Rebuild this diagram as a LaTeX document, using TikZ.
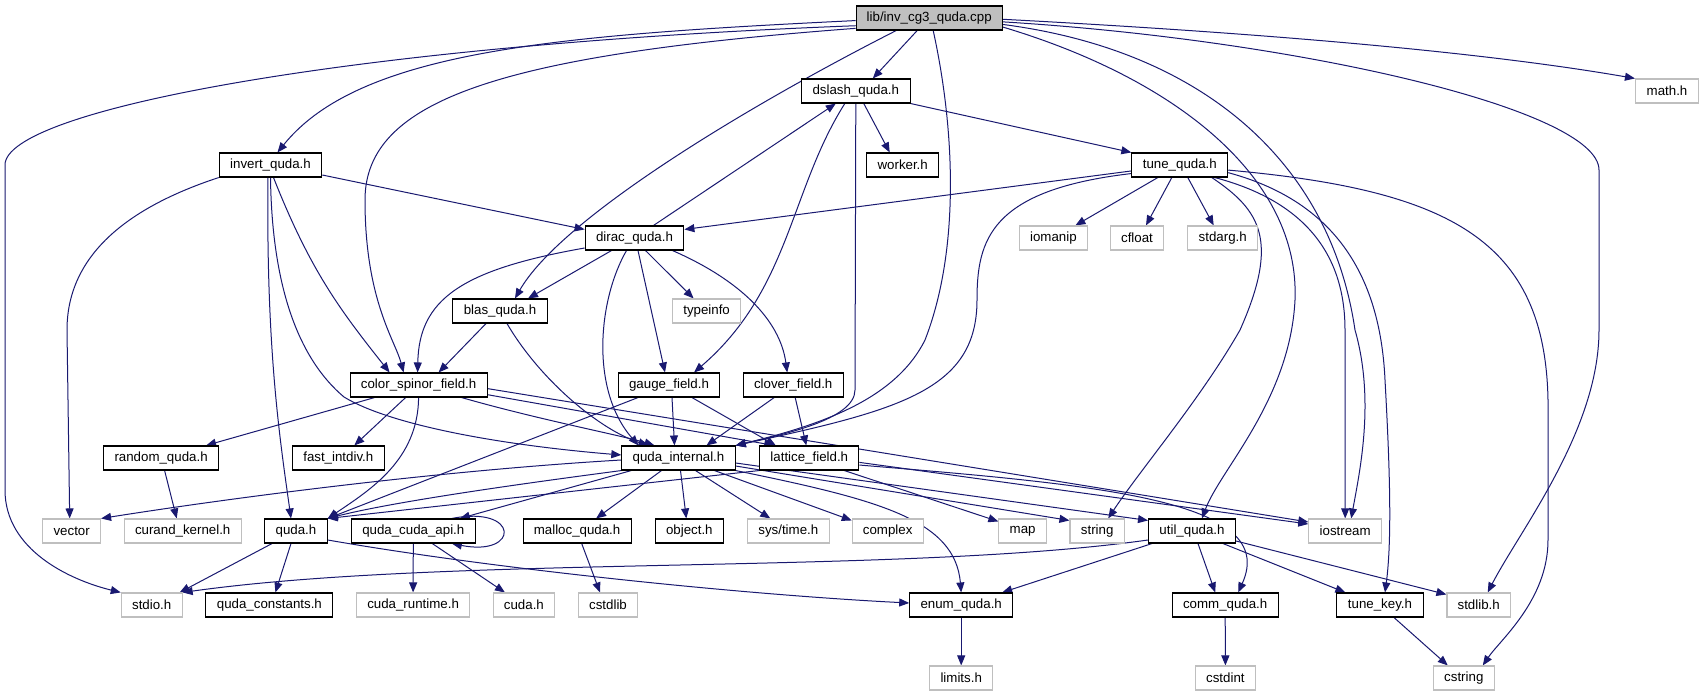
\documentclass[tikz,border=0pt]{standalone}
\usepackage{fontspec}
\setmainfont{Liberation Sans}
\usetikzlibrary{arrows.meta}
\definecolor{edgec}{HTML}{191970}
\definecolor{sysc}{HTML}{BFBFBF}
\definecolor{rootc}{HTML}{BFBFBF}
\pgfdeclarelayer{back}
\pgfdeclarelayer{bg}
\pgfsetlayers{back,bg,main}
\newcommand{\fsz}{\fontsize{13.3pt}{16pt}\selectfont}
\tikzset{
  box/.style={draw=black, line width=1.1pt, fill=white, minimum height=24pt, inner sep=0pt, font=\fsz},
  sys/.style={draw=sysc, line width=1.1pt, fill=white, minimum height=24pt, inner sep=0pt, font=\fsz},
  rootbox/.style={box, fill=rootc},
  edge/.style={draw=edgec, line width=1pt, -{Triangle[length=10pt,width=8pt]}}
}
\begin{document}
\begin{tikzpicture}[x=1pt,y=-1pt]
\useasboundingbox (0,0) rectangle (1703,696);
\begin{pgfonlayer}{back}
\fill[white] (0,0) rectangle (1703,696);
\end{pgfonlayer}
% nodes
\node[rootbox, minimum width=146pt] (root) at (929.2,18) {lib/inv\_cg3\_quda.cpp};
\node[box, minimum width=108.7pt] (dslash) at (855.8,91) {dslash\_quda.h};
\node[sys, minimum width=63pt] (mathh) at (1667,91) {math.h};
\node[box, minimum width=102.5pt] (invert) at (270.5,165) {invert\_quda.h};
\node[box, minimum width=72.3pt] (worker) at (902.7,165) {worker.h};
\node[box, minimum width=95.8pt] (tune) at (1179.8,165) {tune\_quda.h};
\node[box, minimum width=98.7pt] (dirac) at (634.5,238) {dirac\_quda.h};
\node[sys, minimum width=67.8pt] (iomanip) at (1053.4,238) {iomanip};
\node[sys, minimum width=53.4pt] (cfloat) at (1137,238) {cfloat};
\node[sys, minimum width=70pt] (stdarg) at (1222.7,238) {stdarg.h};
\node[box, minimum width=94.5pt] (blas) at (500,311) {blas\_quda.h};
\node[sys, minimum width=68.1pt] (typeinfo) at (706.6,311) {typeinfo};
\node[box, minimum width=137pt] (csf) at (418.6,385) {color\_spinor\_field.h};
\node[box, minimum width=101.8pt] (gauge) at (669,385) {gauge\_field.h};
\node[box, minimum width=99.9pt] (clover) at (793.2,385) {clover\_field.h};
\node[box, minimum width=114.8pt] (random) at (161.1,458) {random\_quda.h};
\node[box, minimum width=91.8pt] (fastdiv) at (338.3,458) {fast\_intdiv.h};
\node[box, minimum width=113.3pt] (qi) at (678.5,458) {quda\_internal.h};
\node[box, minimum width=99.1pt] (lattice) at (809.3,458) {lattice\_field.h};
\node[sys, minimum width=57.7pt] (vector) at (71.7,531) {vector};
\node[sys, minimum width=116.7pt] (curand) at (182.7,531) {curand\_kernel.h};
\node[box, minimum width=62.4pt] (qudah) at (296,531) {quda.h};
\node[box, minimum width=124pt] (cudaapi) at (413.3,531) {quda\_cuda\_api.h};
\node[box, minimum width=108pt] (malloc) at (577.1,531) {malloc\_quda.h};
\node[box, minimum width=68.1pt] (object) at (689.3,531) {object.h};
\node[sys, minimum width=81.5pt] (systime) at (788.3,531) {sys/time.h};
\node[sys, minimum width=70.8pt] (complex) at (887.7,531) {complex};
\node[sys, minimum width=47.4pt] (map) at (1022.6,531) {map};
\node[sys, minimum width=54.4pt] (string) at (1097.2,531) {string};
\node[box, minimum width=86.9pt] (util) at (1192,531) {util\_quda.h};
\node[sys, minimum width=72.7pt] (iostream) at (1345.2,531) {iostream};
\node[sys, minimum width=60.8pt] (stdio) at (151.7,605) {stdio.h};
\node[box, minimum width=127pt] (constants) at (269.4,605) {quda\_constants.h};
\node[sys, minimum width=113.6pt] (cudart) at (413.1,605) {cuda\_runtime.h};
\node[sys, minimum width=61.3pt] (cudah) at (523.9,605) {cuda.h};
\node[sys, minimum width=59.3pt] (cstdlib) at (608,605) {cstdlib};
\node[box, minimum width=102.9pt] (enum) at (961.2,605) {enum\_quda.h};
\node[box, minimum width=105.8pt] (comm) at (1225.2,605) {comm\_quda.h};
\node[box, minimum width=86.2pt] (tunekey) at (1380,605) {tune\_key.h};
\node[sys, minimum width=63.5pt] (stdlib) at (1478.7,605) {stdlib.h};
\node[sys, minimum width=63.1pt] (limits) at (961.2,678) {limits.h};
\node[sys, minimum width=60pt] (cstdint) at (1225.4,678) {cstdint};
\node[sys, minimum width=60.7pt] (cstring) at (1463.8,678) {cstring};
% edges
\begin{pgfonlayer}{bg}
\draw[edge] (root.186) .. controls (350,45) and (5,110) .. (5,165) -- (5,490) .. controls (5,550) and (70,580) .. (stdio.north west);
\draw[edge] (root.182) .. controls (560,35) and (360,50) .. ([xshift=7pt]invert.north);
\draw[edge] (root.188) .. controls (500,55) and (365,100) .. (365,200) .. controls (365,300) and (395,340) .. ([xshift=-15pt]csf.north);
\draw[edge] ([xshift=-33pt]root.south) .. controls (740,110) and (560,220) .. ([xshift=15pt]blas.north);
\draw[edge] ([xshift=-12pt]root.south) -- ([xshift=17pt]dslash.north);
\draw[edge] ([xshift=4pt]root.south) .. controls (955,130) and (960,250) .. (925,340) .. controls (895,400) and (820,425) .. (qi.north east);
\draw[edge] (root.-7) .. controls (1180,80) and (1300,180) .. (1295,300) .. controls (1290,400) and (1220,470) .. ([xshift=10pt]util.north);
\draw[edge] (root.-5) .. controls (1200,50) and (1330,160) .. (1355,330) .. controls (1375,400) and (1360,470) .. ([xshift=6pt]iostream.north);
\draw[edge] (root.-3) .. controls (1300,40) and (1599,110) .. (1599,170) -- (1599,330) .. controls (1599,430) and (1520,530) .. ([xshift=9pt]stdlib.north);
\draw[edge] (root.-1) .. controls (1300,35) and (1500,55) .. (mathh.north west);
\draw[edge] ([xshift=8pt]dslash.south) -- ([xshift=-13pt]worker.north);
\draw[edge] (dslash.south east) -- (tune.north west);
\draw[edge] (dslash.south) -- (855,390) .. controls (855,420) and (780,435) .. (qi.north east);
\draw[edge] ([xshift=-11pt]dslash.south) .. controls (790,190) and (790,290) .. ([xshift=25pt]gauge.north);
\draw[edge] ([xshift=19pt]dirac.north) -- ([xshift=-20pt]dslash.south);
\draw[edge] (tune.187) -- ([yshift=-4pt]dirac.north east);
\draw[edge] (tune.190) .. controls (990,190) and (977,240) .. (977,300) .. controls (977,390) and (900,410) .. (qi.north east);
\draw[edge] ([xshift=-22pt]tune.south) -- ([xshift=22pt]iomanip.north);
\draw[edge] ([xshift=-8pt]tune.south) -- ([xshift=9pt]cfloat.north);
\draw[edge] ([xshift=8pt]tune.south) -- ([xshift=-9pt]stdarg.north);
\draw[edge] ([xshift=32pt]tune.south) .. controls (1260,210) and (1280,240) .. (1240,330) .. controls (1200,400) and (1140,470) .. ([xshift=11pt]string.north);
\draw[edge] ([xshift=35pt]tune.south) .. controls (1300,200) and (1345,250) .. (1345,330) -- (iostream.north);
\draw[edge] (tune.-9) .. controls (1330,200) and (1380,270) .. (1385,380) .. controls (1390,470) and (1392,540) .. ([xshift=5pt]tunekey.north);
\draw[edge] (tune.-6) .. controls (1450,190) and (1545,240) .. (1548,400) -- (1548,540) .. controls (1548,600) and (1500,640) .. ([xshift=19pt]cstring.north);
\draw[edge] (invert.south west) .. controls (120,210) and (67,260) .. (67,330) -- ([xshift=-2pt]vector.north);
\draw[edge] ([yshift=-10pt]invert.east) -- ([yshift=-4pt]dirac.north west);
\draw[edge] ([xshift=-2.5pt]invert.south) .. controls (266,350) and (280,440) .. ([xshift=-5pt]qudah.north);
\draw[edge] (invert.south) .. controls (272,290) and (300,360) .. (344,397) .. controls (390,425) and (500,445) .. ([yshift=3pt]qi.west);
\draw[edge] ([xshift=3pt]invert.south) .. controls (310,270) and (340,310) .. ([xshift=-29pt]csf.north);
\draw[edge] ([yshift=-10pt]dirac.west) .. controls (460,270) and (419,300) .. ([xshift=-1pt]csf.north);
\draw[edge] ([xshift=-14pt]blas.south) -- ([xshift=20pt]csf.north);
\draw[edge] ([xshift=-23pt]dirac.south) -- ([xshift=28pt]blas.north);
\draw[edge] ([xshift=11pt]dirac.south) -- ([xshift=-13pt]typeinfo.north);
\draw[edge] ([xshift=3.5pt]dirac.south) -- ([xshift=-4pt]gauge.north);
\draw[edge] ([xshift=38pt]dirac.south) .. controls (740,280) and (780,320) .. ([xshift=-6pt]clover.north);
\draw[edge] ([xshift=-8pt]dirac.south) .. controls (598,300) and (590,390) .. ([xshift=-40pt]qi.north);
\draw[edge] ([xshift=7pt]blas.south) .. controls (540,380) and (600,430) .. ([xshift=-30pt]qi.north);
\draw[edge] ([xshift=-44pt]csf.south) -- ([xshift=45pt]random.north);
\draw[edge] ([xshift=-13pt]csf.south) -- ([xshift=16pt]fastdiv.north);
\draw[edge] (csf.south) .. controls (418,460) and (370,490) .. (qudah.north east);
\draw[edge] ([xshift=43pt]csf.south) .. controls (540,420) and (620,435) .. ([xshift=-24pt]qi.north);
\draw[edge] (csf.-8) -- ([xshift=15pt]lattice.north west);
\draw[edge] (csf.-3) -- ([yshift=9pt]iostream.west);
\draw[edge] (lattice.-5) -- ([yshift=7pt]iostream.west);
\draw[edge] (lattice.-8) .. controls (1100,485) and (1280,500) .. ([xshift=13pt]comm.north);
\draw[edge] ([xshift=35pt]lattice.south) -- ([yshift=-3pt]map.north west);
\draw[edge] (lattice.south west) -- (qudah.north east);
\draw[edge] ([xshift=-31pt]gauge.south) -- (qudah.north east);
\draw[edge] ([xshift=3pt]gauge.south) -- ([xshift=-4pt]qi.north);
\draw[edge] ([xshift=23pt]gauge.south) -- ([xshift=-33.5pt]lattice.north);
\draw[edge] ([xshift=-19pt]clover.south) -- ([xshift=28pt]qi.north);
\draw[edge] ([xshift=2pt]clover.south) -- ([xshift=-3pt]lattice.north);
\draw[edge] ([yshift=-2pt]qi.west) .. controls (450,470) and (250,495) .. (vector.north east);
\draw[edge] (qi.south west) .. controls (550,480) and (400,500) .. (qudah.north east);
\draw[edge] ([xshift=10pt]qi.south west) -- ([xshift=-16pt]cudaapi.north east);
\draw[edge] ([xshift=-17pt]qi.south) -- ([xshift=19pt]malloc.north);
\draw[edge] ([xshift=2pt]qi.south) -- ([xshift=-3pt]object.north);
\draw[edge] ([xshift=17pt]qi.south) -- ([xshift=-18pt]systime.north);
\draw[edge] ([xshift=36pt]qi.south) -- ([yshift=-2pt]complex.north west);
\draw[edge] (qi.south east) .. controls (880,500) and (955,520) .. (enum.north);
\draw[edge] ([yshift=-8pt]qi.east) -- ([yshift=-2pt]string.north west);
\draw[edge] ([yshift=-5pt]qi.east) -- ([yshift=-2pt]util.north west);
\draw[edge] ([xshift=-24pt]qudah.south) -- ([xshift=-3pt]stdio.north east);
\draw[edge] ([xshift=-5pt]qudah.south) -- ([xshift=6pt]constants.north);
\draw[edge] ([yshift=-9pt]qudah.east) .. controls (500,570) and (750,595) .. ([yshift=2pt]enum.west);
\draw[edge] ([xshift=-24pt]cudaapi.north east) .. controls (520,505) and (520,557) .. ([xshift=-24pt]cudaapi.south east);
\draw[edge] (cudaapi.south) -- (cudart.north);
\draw[edge] ([xshift=19pt]cudaapi.south) -- ([xshift=-19pt]cudah.north);
\draw[edge] ([xshift=4.6pt]malloc.south) -- ([xshift=-8pt]cstdlib.north);
\draw[edge] ([xshift=3.5pt]random.south) -- ([xshift=-6pt]curand.north);
\draw[edge] ([yshift=-9pt]util.west) .. controls (900,575) and (450,555) .. (stdio.north east);
\draw[edge] ([xshift=-40pt]util.south) -- ([xshift=-11pt]enum.north east);
\draw[edge] ([xshift=6pt]util.south) -- ([xshift=-10pt]comm.north);
\draw[edge] ([xshift=31pt]util.south) -- ([xshift=9pt]tunekey.north west);
\draw[edge] ([yshift=-10pt]util.east) -- ([yshift=-2pt]stdlib.north west);
\draw[edge] (enum.south) -- (limits.north);
\draw[edge] (comm.south) -- (cstdint.north);
\draw[edge] ([xshift=14pt]tunekey.south) -- ([xshift=-16pt]cstring.north);
\end{pgfonlayer}
\end{tikzpicture}
\end{document}
